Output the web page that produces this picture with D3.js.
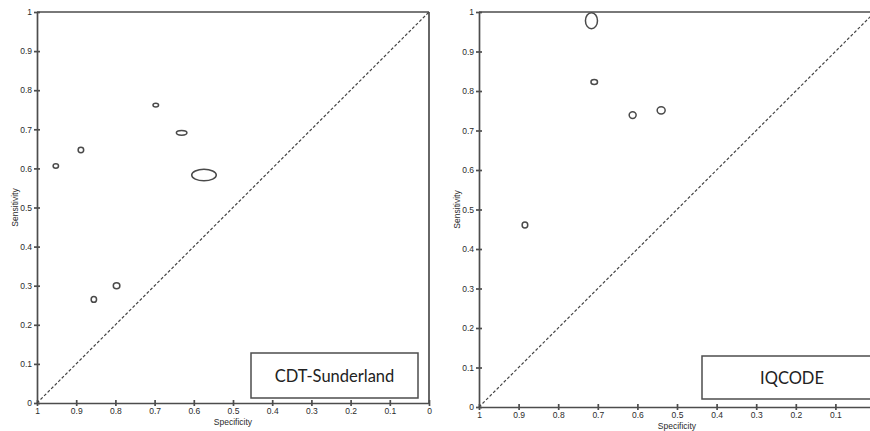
<!DOCTYPE html>
<html>
<head>
<meta charset="utf-8">
<script src="https://cdn.jsdelivr.net/npm/d3@7"></script>
<style>
  body { margin: 0; background: #fff; }
  svg { display: block; font-family: "Liberation Sans", Arial, sans-serif; }
</style>
</head>
<body>
<svg id="chart" width="870" height="431"></svg>
<script>
// tick values and labels shared by both panels
const tickValues = [0, 0.1, 0.2, 0.3, 0.4, 0.5, 0.6, 0.7, 0.8, 0.9, 1];
const tickLabels = ["0", "0.1", "0.2", "0.3", "0.4", "0.5", "0.6", "0.7", "0.8", "0.9", "1"];

// CDT-Sunderland studies
const cdtSpecificity = [0.952, 0.888, 0.697, 0.631, 0.574, 0.855, 0.797];
const cdtSensitivity = [0.606, 0.647, 0.762, 0.691, 0.583, 0.265, 0.300];
const cdtSpecSE = [0.0069, 0.0071, 0.0071, 0.0135, 0.0314, 0.0069, 0.0084];
const cdtSensSE = [0.0056, 0.0069, 0.0049, 0.0061, 0.0148, 0.0074, 0.0077];

// IQCODE studies
const iqSpecificity = [0.716, 0.709, 0.612, 0.540, 0.884];
const iqSensitivity = [0.978, 0.823, 0.739, 0.751, 0.461];
const iqSpecSE = [0.0152, 0.0083, 0.0088, 0.0101, 0.0071];
const iqSensSE = [0.0203, 0.0063, 0.0084, 0.0091, 0.0076];

const width = 870;
const svg = d3.select("#chart");
const axisColor = "#4d4d4d";
const textColor = "#2b2b2b";

function drawPanel(p) {
  const x = d3.scaleLinear().domain([1, 0]).range([p.left, p.right]);
  const y = d3.scaleLinear().domain([0, 1]).range([p.bottom, p.top]);
  const g = svg.append("g");

  const fmt = d => tickLabels[tickValues.indexOf(d)];
  // the right panel is cut by the page edge, so skip ticks past it
  const xTicks = tickValues.filter(v => x(v) < width - 2);

  const yAxis = g.append("g")
    .attr("transform", `translate(${p.left},0)`)
    .call(d3.axisLeft(y).tickValues(tickValues).tickFormat(fmt)
      .tickSize(3).tickSizeOuter(0).tickPadding(2));
  yAxis.selectAll(".tick line").attr("x1", 3).attr("x2", -3);

  const xAxis = g.append("g")
    .attr("transform", `translate(0,${p.bottom})`)
    .call(d3.axisBottom(x).tickValues(xTicks).tickFormat(fmt)
      .tickSize(3).tickSizeOuter(0).tickPadding(2));
  xAxis.selectAll(".tick line").attr("y1", -3).attr("y2", 3);

  g.selectAll(".domain, .tick line")
    .attr("stroke", axisColor)
    .attr("stroke-width", 1.7);
  g.selectAll(".tick text")
    .attr("fill", textColor)
    .attr("font-size", 8.5)
    .attr("font-family", "Liberation Sans, Arial, sans-serif");

  // top and right frame
  g.append("line")
    .attr("x1", x(1)).attr("x2", x(0))
    .attr("y1", y(1)).attr("y2", y(1))
    .attr("stroke", axisColor).attr("stroke-width", 1.7);
  g.append("line")
    .attr("x1", x(0)).attr("x2", x(0))
    .attr("y1", y(1)).attr("y2", y(0))
    .attr("stroke", axisColor).attr("stroke-width", 1.7);

  // chance diagonal
  g.append("line")
    .attr("x1", x(1)).attr("y1", y(0))
    .attr("x2", x(0)).attr("y2", y(1))
    .attr("stroke", "#444")
    .attr("stroke-width", 1.2)
    .attr("stroke-dasharray", "3,2");

  // study ellipses
  const rows = p.spec.map((s, i) => ({ spec: s, sens: p.sens[i], sx: p.specSE[i], sy: p.sensSE[i] }));
  g.selectAll("ellipse")
    .data(rows)
    .enter()
    .append("ellipse")
    .attr("cx", d => x(d.spec))
    .attr("cy", d => y(d.sens))
    .attr("rx", d => Math.abs(x(0) - x(d.sx)))
    .attr("ry", d => Math.abs(y(0) - y(d.sy)))
    .attr("fill", "none")
    .attr("stroke", "#4a4a4a")
    .attr("stroke-width", 1.5);

  // axis titles
  g.append("text")
    .attr("x", (p.left + p.right) / 2)
    .attr("y", p.bottom + 21.5)
    .attr("text-anchor", "middle")
    .attr("font-size", 8.5)
    .attr("fill", textColor)
    .text("Specificity");
  g.append("text")
    .attr("transform", `translate(${p.left - 19},${(p.top + p.bottom) / 2}) rotate(-90)`)
    .attr("text-anchor", "middle")
    .attr("font-size", 8.5)
    .attr("fill", textColor)
    .text("Sensitivity");

  // label box
  g.append("rect")
    .attr("x", p.box[0]).attr("y", p.box[1])
    .attr("width", p.box[2]).attr("height", p.box[3])
    .attr("fill", "#fff")
    .attr("stroke", axisColor)
    .attr("stroke-width", 1.5);
  g.append("text")
    .attr("x", p.box[0] + p.box[2] / 2)
    .attr("y", p.box[1] + p.box[3] / 2 + 6)
    .attr("text-anchor", "middle")
    .attr("font-family", "Lato, 'Open Sans', sans-serif")
    .attr("font-size", 16.5)
    .attr("fill", "#222")
    .text(p.label);
}

drawPanel({
  left: 37, right: 429, top: 12, bottom: 403,
  spec: cdtSpecificity, sens: cdtSensitivity, specSE: cdtSpecSE, sensSE: cdtSensSE,
  box: [251, 353, 167, 45], label: "CDT-Sunderland"
});

drawPanel({
  left: 479, right: 875, top: 12, bottom: 407,
  spec: iqSpecificity, sens: iqSensitivity, specSE: iqSpecSE, sensSE: iqSensSE,
  box: [702, 356, 180, 43], label: "IQCODE"
});
</script>
</body>
</html>
